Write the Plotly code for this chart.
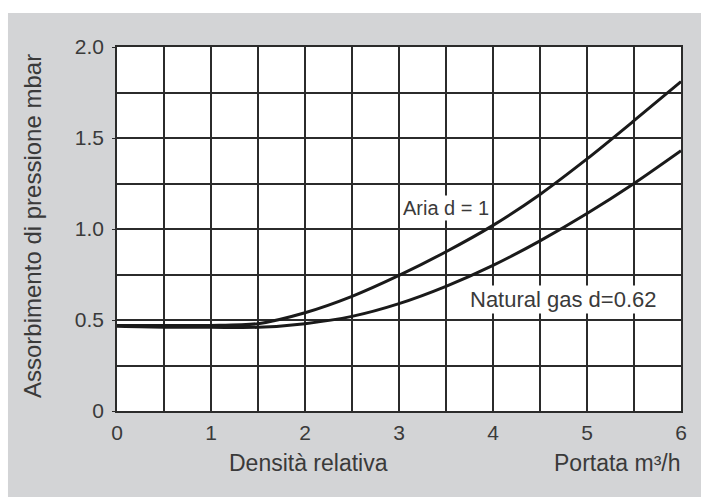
import plotly.graph_objects as go

# Data
portata = [0, 0.5, 1, 1.5, 2, 2.5, 3, 3.5, 4, 4.5, 5, 5.5, 6]
aria = [0.47, 0.47, 0.47, 0.48, 0.54, 0.63, 0.745, 0.875, 1.02, 1.19, 1.385, 1.595, 1.81]
natural_gas = [0.465, 0.46, 0.46, 0.46, 0.48, 0.52, 0.59, 0.685, 0.80, 0.935, 1.085, 1.25, 1.43]

x_ticks = [0, 1, 2, 3, 4, 5, 6]
y_tickvals = [0, 0.5, 1.0, 1.5, 2.0]
y_ticktext = ["0", "0.5", "1.0", "1.5", "2.0"]

FONT = "Liberation Sans, Arial, sans-serif"
TXT = "#3a3a3a"
GRID = "#2b2b2b"
LINE = "#1a1a1a"
GRAY = "#d3d4d6"

fig = go.Figure()
fig.add_trace(go.Scatter(x=portata, y=aria, mode="lines", name="Aria d = 1",
                         line=dict(color=LINE, width=3, shape="spline", smoothing=0.8)))
fig.add_trace(go.Scatter(x=portata, y=natural_gas, mode="lines", name="Natural gas d=0.62",
                         line=dict(color=LINE, width=3, shape="spline", smoothing=0.8)))

fig.update_layout(
    width=701, height=497,
    margin=dict(l=117, r=20, t=47, b=86),
    paper_bgcolor="white",
    plot_bgcolor="white",
    showlegend=False,
    font=dict(family=FONT, color=TXT, size=20),
    shapes=[
        dict(type="rect", xref="paper", yref="paper", x0=-0.1933, x1=1.1, y0=-0.3, y1=1.0934,
             fillcolor=GRAY, line=dict(width=0), layer="below"),
        dict(type="rect", xref="paper", yref="paper", x0=0, x1=1, y0=0, y1=1,
             fillcolor="white", line=dict(width=0), layer="below"),
    ],
)

fig.update_xaxes(
    range=[0, 6], tickvals=x_ticks, ticks="", showgrid=True, gridcolor=GRID, gridwidth=1.5,
    minor=dict(dtick=0.5, tick0=0, showgrid=True, gridcolor=GRID, gridwidth=1.5),
    showline=True, linecolor=GRID, linewidth=1.5, mirror=True, zeroline=False,
    tickfont=dict(size=21, color=TXT), ticklabelstandoff=2,
)
fig.update_yaxes(
    range=[0, 2.0], tickvals=y_tickvals, ticktext=y_ticktext, ticks="outside", ticklen=3,
    tickcolor=GRID, showgrid=True, gridcolor=GRID, gridwidth=1.5,
    minor=dict(dtick=0.25, tick0=0, showgrid=True, gridcolor=GRID, gridwidth=1.5),
    showline=True, linecolor=GRID, linewidth=1.5, mirror=True, zeroline=False,
    tickfont=dict(size=21, color=TXT), ticklabelstandoff=4,
)

fig.add_annotation(x=3.5, y=1.115, text="Aria d = 1", showarrow=False,
                   font=dict(size=20, color=TXT), bgcolor="white", borderpad=1)
fig.add_annotation(x=4.745, y=0.615, text="Natural gas d=0.62", showarrow=False,
                   font=dict(size=22, color=TXT), bgcolor="white", borderpad=1)

fig.add_annotation(xref="paper", yref="paper", x=(308 - 117) / 564, y=(411 - 463) / 364,
                   xanchor="center", yanchor="middle",
                   text="Densità relativa", showarrow=False, font=dict(size=23, color=TXT))
fig.add_annotation(xref="paper", yref="paper", x=(683 - 117) / 564, y=(411 - 463) / 364,
                   xanchor="right", yanchor="middle", text="Portata m³/h",
                   showarrow=False, font=dict(size=23, color=TXT))
fig.add_annotation(xref="paper", yref="paper", x=(32 - 117) / 564, y=(411 - 226) / 364,
                   xanchor="center", yanchor="middle",
                   text="Assorbimento di pressione mbar", textangle=-90, showarrow=False,
                   font=dict(size=24, color=TXT))

fig.write_html(
    "out.html",
    config={"displayModeBar": False},
    post_script="document.body.style.margin='0';document.body.style.overflow='hidden';",
)
